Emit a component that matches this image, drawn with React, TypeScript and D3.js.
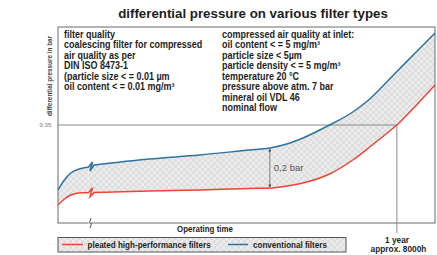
import React from "react";
import * as d3 from "d3";

// ---------- data ----------
const title = "differential pressure on various filter types";
const hours = [0, 150, 300, 500, 720, 850, 2150, 3340, 4520, 5000, 5400, 5780, 6410, 6960, 7360, 7830, 8000, 8190, 8550, 8900];
const breakIndex = 5; // first index after the axis break
const conventional = [0.025, 0.075, 0.11, 0.13, 0.14, 0.15, 0.18, 0.2, 0.225, 0.235, 0.255, 0.285, 0.35, 0.415, 0.48, 0.58, 0.617, 0.658, 0.735, 0.81];
const pleated = [-0.05, -0.02, 0.0, 0.01, 0.012, 0.012, 0.02, 0.025, 0.033, 0.035, 0.045, 0.06, 0.105, 0.175, 0.24, 0.32, 0.35, 0.39, 0.47, 0.55];
const yTicks = [0.35];
const yTickLabels = ["0.35"];
const yearHours = 8000;
const gapHours = 5000;
const gapTop = 0.235;
const gapBottom = 0.035;
const gapLabel = "0,2 bar";
const leftInfo = [
  "filter quality",
  "coalescing filter for compressed",
  "air quality as per",
  "DIN ISO 8473-1",
  "(particle size < = 0.01 µm",
  "oil content < = 0.01 mg/m³",
];
const rightInfo = [
  "compressed air quality at inlet:",
  "oil content < = 5 mg/m³",
  "particle size < 5µm",
  "particle density < = 5 mg/m³",
  "temperature 20 °C",
  "pressure above atm. 7 bar",
  "mineral oil VDL 46",
  "nominal flow",
];
const seriesNames = ["pleated high-performance filters", "conventional filters"];
const xAxisTitle = "Operating time";
const yAxisTitle = "differential pressure in bar";
const yearLabels = ["1 year", "approx. 8000h"];

// ---------- layout ----------
const W = 437;
const H = 255;
const L = 58, R = 435, T = 27, B = 223;
const RED = "#ee4430";
const BLUE = "#2b73a3";
const FONT = "'Liberation Sans', Arial, Helvetica, sans-serif";

const x = d3.scaleLinear().domain([0, 8900]).range([L, R]);
const y = d3.scaleLinear().domain([-0.14, 0.84]).range([B, T]);

type P = [number, number];
const line = d3.line<P>().x(d => x(d[0])).y(d => y(d[1])).curve(d3.curveMonotoneX);
const area = d3
  .area<[number, number, number]>()
  .x(d => x(d[0]))
  .y0(d => y(d[1]))
  .y1(d => y(d[2]))
  .curve(d3.curveMonotoneX);

function seriesPath(vals: number[]) {
  const pts: P[] = hours.map((h, i) => [h, vals[i]]);
  const seg1 = pts.slice(0, breakIndex);
  const seg2 = pts.slice(breakIndex);
  const last = seg1[seg1.length - 1];
  const px = x(last[0]);
  const py = y(last[1]);
  const zig = `L${px + 4},${py - 5}L${px + 1.5},${py + 4}`;
  return (line(seg1) || "") + zig + (line(seg2) || "").replace(/^M/, "L");
}

function CText(props: {
  x: number; y: number; size: number; sx?: number; anchor?: string; weight?: string; fill?: string; children: React.ReactNode;
}) {
  const { sx = 1 } = props;
  return (
    <text
      transform={`translate(${props.x},${props.y}) scale(${sx},1)`}
      fontFamily={FONT}
      fontSize={props.size}
      fontWeight={props.weight ?? "bold"}
      textAnchor={props.anchor ?? "start"}
      fill={props.fill ?? "#1e1e1e"}
    >
      {props.children}
    </text>
  );
}

export default function App() {
  const blueD = seriesPath(conventional);
  const redD = seriesPath(pleated);
  const tri = hours.map((h, i) => [h, pleated[i], conventional[i]] as [number, number, number]);
  const area1 = area(tri.slice(0, breakIndex)) || "";
  const area2 = area(tri.slice(breakIndex)) || "";
  const a = tri[breakIndex - 1];
  const b = tri[breakIndex];
  const bridge = `M${x(a[0])},${y(a[2])}L${x(b[0])},${y(b[2])}L${x(b[0])},${y(b[1])}L${x(a[0])},${y(a[1])}Z`;

  const yearX = x(yearHours);
  const gapX = x(gapHours);
  const breakX = x(hours[breakIndex - 1]) + 1;
  const legY = 244.5;

  return (
    <svg width={W} height={H} style={{ position: "absolute", left: 0, top: 0, background: "#fff" }}>
      <defs>
        <pattern id="tex" width="6" height="6" patternUnits="userSpaceOnUse">
          <rect width="6" height="6" fill="#dedede" />
          <rect x="0" y="0" width="3" height="3" fill="#ebebeb" />
          <rect x="3" y="3" width="3" height="3" fill="#ebebeb" />
        </pattern>
        <marker id="arr" viewBox="0 0 6 6" refX="5.5" refY="3" markerWidth="4" markerHeight="4" orient="auto-start-reverse">
          <path d="M0,0L6,3L0,6Z" fill="#333" />
        </marker>
      </defs>

      {/* title */}
      <text x={253} y={17.5} textAnchor="middle" fontFamily={FONT} fontWeight="bold" fontSize={13.3} fill="#1e1e1e">
        {title}
      </text>

      {/* shaded band */}
      <path d={area1} fill="url(#tex)" />
      <path d={bridge} fill="url(#tex)" />
      <path d={area2} fill="url(#tex)" />

      {/* frame */}
      <rect x={L} y={T} width={R - L} height={B - T} fill="none" stroke="#6a6a6a" strokeWidth={1} />

      {/* 0.35 reference and 1 year */}
      {yTicks.map((t, i) => (
        <g key={i}>
          <line x1={L} x2={yearX} y1={y(t)} y2={y(t)} stroke="#8a8a8a" strokeWidth={1} />
          <text x={51.5} y={y(t) + 2.3} textAnchor="end" fontFamily={FONT} fontSize={6.2} fill="#777">
            {yTickLabels[i]}
          </text>
        </g>
      ))}
      <line x1={yearX} x2={yearX} y1={y(yTicks[0])} y2={233} stroke="#8a8a8a" strokeWidth={1} />

      {/* curves */}
      <path d={blueD} fill="none" stroke={BLUE} strokeWidth={1.5} />
      <path d={redD} fill="none" stroke={RED} strokeWidth={1.5} />

      {/* axis break */}
      <rect x={breakX - 1} y={B - 1} width={3} height={2} fill="#fff" />
      <path
        d={`M${breakX + 1.5},${B - 5}L${breakX},${B}L${breakX + 2},${B + 0.5}L${breakX + 0.5},${B + 5}`}
        fill="none"
        stroke="#444"
        strokeWidth={0.9}
      />

      {/* 0.2 bar gap */}
      <line
        x1={gapX}
        x2={gapX}
        y1={y(gapTop) + 1}
        y2={y(gapBottom) - 1}
        stroke="#555"
        strokeWidth={0.7}
        markerStart="url(#arr)"
        markerEnd="url(#arr)"
      />
      <text x={gapX + 4} y={(y(gapTop) + y(gapBottom)) / 2 + 3} fontFamily={FONT} fontSize={9.5} fill="#555">
        {gapLabel}
      </text>

      {/* info texts */}
      {leftInfo.map((s, i) => (
        <CText key={"l" + i} x={64} y={37.5 + i * 10.5} size={10} sx={0.9}>
          {s}
        </CText>
      ))}
      {rightInfo.map((s, i) => (
        <CText key={"r" + i} x={222} y={37.5 + i * 10.5} size={10} sx={0.9}>
          {s}
        </CText>
      ))}

      {/* axis titles */}
      <text
        transform={`translate(51.5,76) rotate(-90)`}
        textAnchor="middle"
        fontFamily={FONT}
        fontSize={6.5}
        fontWeight="bold"
        fill="#444"
        textLength={80}
        lengthAdjust="spacingAndGlyphs"
      >
        {yAxisTitle}
      </text>
      <CText x={205} y={231.5} size={9} sx={0.88} anchor="middle">
        {xAxisTitle}
      </CText>

      {/* legend */}
      <rect x={L} y={237.5} width={288} height={14.5} fill="url(#tex)" stroke="#555" strokeWidth={1} />
      <line x1={62} x2={83} y1={legY} y2={legY} stroke={RED} strokeWidth={1.5} />
      <CText x={87.5} y={legY + 3.2} size={9.5} sx={0.85}>
        {seriesNames[0]}
      </CText>
      <line x1={228} x2={248} y1={legY} y2={legY} stroke={BLUE} strokeWidth={1.5} />
      <CText x={253} y={legY + 3.2} size={9.5} sx={0.85}>
        {seriesNames[1]}
      </CText>

      {/* year labels */}
      <CText x={397} y={242.8} size={8.3} anchor="middle">
        {yearLabels[0]}
      </CText>
      <CText x={398.5} y={252} size={8.3} anchor="middle">
        {yearLabels[1]}
      </CText>
    </svg>
  );
}
